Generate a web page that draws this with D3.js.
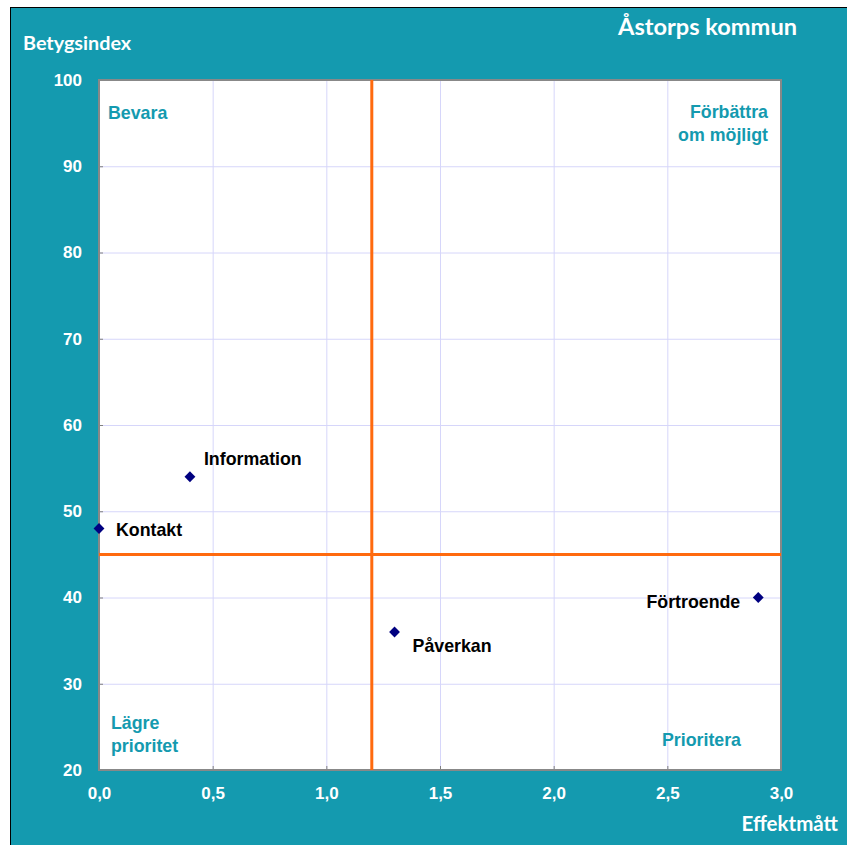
<!DOCTYPE html>
<html>
<head>
<meta charset="utf-8">
<script src="https://cdn.jsdelivr.net/npm/d3@7"></script>
<style>
body { margin: 0; background: #fff; }
</style>
</head>
<body>
<div class="viz"></div>
<script>
var w = 847;
var h = 845;

// data
var names = ["Information", "Kontakt", "Påverkan", "Förtroende"];
var effekt = [0.4, 0.0, 1.3, 2.9];
var betyg = [54, 48, 36, 40];
var xTicks = [0, 0.5, 1, 1.5, 2, 2.5, 3];
var yTicks = [20, 30, 40, 50, 60, 70, 80, 90, 100];
var splitX = 1.2;
var splitY = 45;

var teal = "#149aaf";
var arial = "Liberation Sans, Arial, sans-serif";

var svg = d3.select('.viz').append("svg")
    .attr("width", w)
    .attr("height", h);

// outer frame
svg.append("rect").attr("x", 10.5).attr("y", 7.5).attr("width", w).attr("height", h)
    .attr("fill", teal).attr("stroke", "#000").attr("stroke-width", 1);

var x = d3.scaleLinear().domain([0, 3]).range([99, 781]);
var y = d3.scaleLinear().domain([20, 100]).range([770, 80]);

svg.append("rect").attr("x", x(0)).attr("y", y(100))
    .attr("width", x(3) - x(0)).attr("height", y(20) - y(100))
    .attr("fill", "#fff");

// grid
svg.selectAll(".gx").data(xTicks.slice(1, -1)).enter().append("line")
    .attr("x1", d => x(d) + 0.5).attr("x2", d => x(d) + 0.5)
    .attr("y1", y(100)).attr("y2", y(20))
    .attr("stroke", "#d6d6fa").attr("stroke-width", 1);
svg.selectAll(".gy").data(yTicks.slice(1, -1)).enter().append("line")
    .attr("y1", d => y(d) + 0.5).attr("y2", d => y(d) + 0.5)
    .attr("x1", x(0)).attr("x2", x(3))
    .attr("stroke", "#d6d6fa").attr("stroke-width", 1);

// axes
var fmt = d3.format(".1f");
var xAxis = d3.axisBottom(x).tickValues(xTicks).tickSizeInner(-4).tickSizeOuter(0)
    .tickPadding(17).tickFormat(d => fmt(d).replace(".", ","));
var yAxis = d3.axisLeft(y).tickValues(yTicks).tickSizeInner(-4).tickSizeOuter(0)
    .tickPadding(17);

var gx = svg.append("g").attr("transform", "translate(0," + y(20) + ")").call(xAxis);
var gy = svg.append("g").attr("transform", "translate(" + x(0) + ",0)").call(yAxis);
[gx, gy].forEach(function (g) {
  g.select(".domain").remove();
  g.selectAll(".tick line").attr("stroke", "#808080");
  g.selectAll("text").attr("fill", "#fff").attr("font-family", arial)
    .attr("font-weight", "bold").attr("font-size", 17);
});

// plot border
svg.append("rect").attr("x", x(0)).attr("y", y(100))
    .attr("width", x(3) - x(0)).attr("height", y(20) - y(100))
    .attr("fill", "none").attr("stroke", "#888").attr("stroke-width", 2);

// orange split lines
svg.append("line").attr("x1", x(splitX)).attr("x2", x(splitX)).attr("y1", y(100)).attr("y2", y(20))
    .attr("stroke", "#ff6a0e").attr("stroke-width", 3);
svg.append("line").attr("x1", x(0)).attr("x2", x(3)).attr("y1", y(splitY)).attr("y2", y(splitY))
    .attr("stroke", "#ff6a0e").attr("stroke-width", 3);

// points
var pts = names.map(function (n, i) { return [n, effekt[i], betyg[i]]; });
svg.selectAll(".pt").data(pts).enter().append("path")
    .attr("d", d3.symbol().type(d3.symbolDiamond2).size(75))
    .attr("transform", d => "translate(" + x(d[1]) + "," + y(d[2]) + ")")
    .attr("fill", "#000080");

// point labels (offsets follow the original)
var offs = { "Information": [14, -12, "start"], "Kontakt": [17, 7, "start"], "Påverkan": [18, 20, "start"], "Förtroende": [-18, 10, "end"] };
svg.selectAll(".lbl").data(pts).enter().append("text")
    .text(d => d[0])
    .attr("x", d => x(d[1]) + offs[d[0]][0])
    .attr("y", d => y(d[2]) + offs[d[0]][1])
    .attr("text-anchor", d => offs[d[0]][2])
    .attr("font-family", arial)
    .attr("font-weight", "bold").attr("font-size", 17.8).attr("fill", "#000");

// quadrant labels
function quad(lines, px, py, anchor) {
  var t = svg.append("text").attr("x", px).attr("y", py).attr("text-anchor", anchor)
      .attr("font-family", arial)
      .attr("font-weight", "bold").attr("font-size", 17.8).attr("fill", teal);
  lines.forEach(function (l, i) {
    t.append("tspan").attr("x", px).attr("dy", i == 0 ? 0 : 23).text(l);
  });
}
quad(["Bevara"], 108, 119, "start");
quad(["Förbättra", "om möjligt"], 768, 118, "end");
quad(["Lägre", "prioritet"], 111, 729, "start");
quad(["Prioritera"], 741, 746, "end");

// titles
var cal = "Lato, Carlito, Calibri, sans-serif";
svg.append("text").text("Åstorps kommun").attr("x", 797).attr("y", 35).attr("text-anchor", "end")
    .attr("font-family", cal).attr("font-weight", "bold").attr("font-size", 23.6).attr("fill", "#fff");
svg.append("text").text("Betygsindex").attr("x", 23).attr("y", 50)
    .attr("font-family", cal).attr("font-weight", "bold").attr("font-size", 19.8).attr("fill", "#fff");
svg.append("text").text("Effektmått").attr("x", 838).attr("y", 831).attr("text-anchor", "end")
    .attr("font-family", cal).attr("font-weight", "bold").attr("font-size", 20.5).attr("fill", "#fff");
</script>
</body>
</html>
